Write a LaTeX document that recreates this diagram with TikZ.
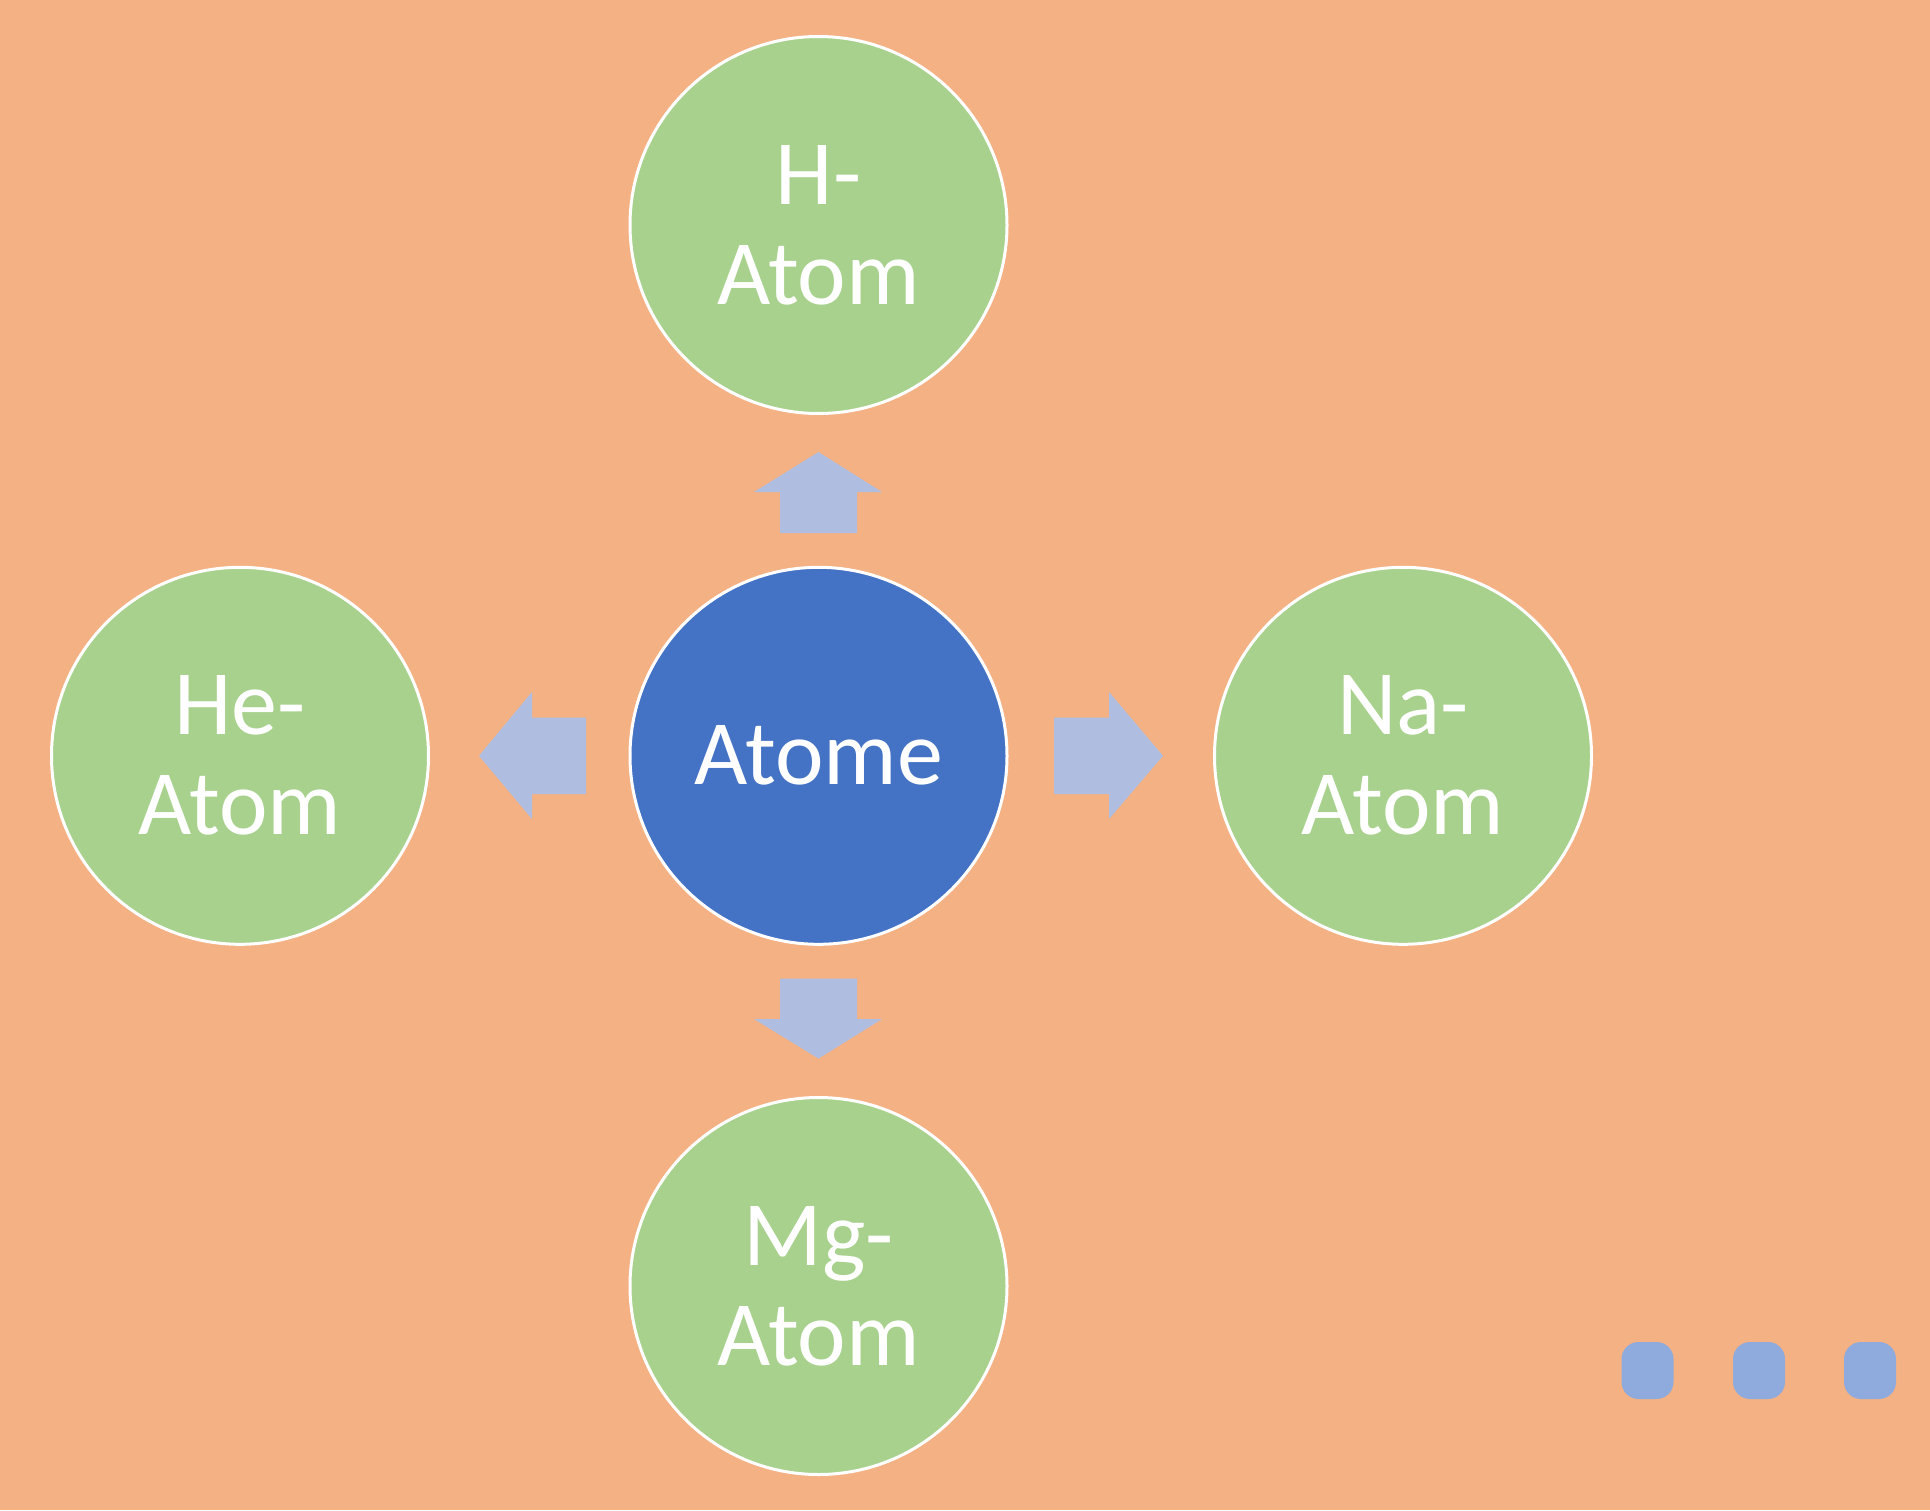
\documentclass[tikz,border=0pt]{standalone}
\usepackage{fontspec}
\setmainfont{Carlito}
\definecolor{bgc}{HTML}{F4B183}
\definecolor{greenc}{HTML}{A9D18E}
\definecolor{bluec}{HTML}{4472C4}
\definecolor{arrc}{HTML}{AFBEE0}
\definecolor{dotc}{HTML}{8FAADC}
\begin{document}
\begin{tikzpicture}[x=1pt,y=-1pt,
  atom/.style={circle,draw=white,line width=3pt,minimum size=377pt,inner sep=0pt,
    text=white,align=center,font=\fontsize{92}{100}\selectfont},
  leaf/.style={atom,fill=greenc},
  hub/.style={atom,fill=bluec},
  blockarrow/.style={fill=arrc,draw=none},
  dotbox/.style={fill=dotc,draw=none,rounded corners=17pt,minimum width=52pt,minimum height=57pt,inner sep=0pt}]
\fill[bgc] (0,0) rectangle (1930,1510);
\useasboundingbox (0,0) rectangle (1930,1510);
\node[hub] (c) at (818.5,755.8) {Atome};
\node[leaf] (t) at (818.5,225) {H-\\Atom};
\node[leaf] (l) at (240,755.8) {He-\\Atom};
\node[leaf] (r) at (1403,755.8) {Na-\\Atom};
\node[leaf] (b) at (818.5,1286) {Mg-\\Atom};
% up arrow
\fill[blockarrow] (780,533) -- (780,492) -- (754,492) -- (818.5,452) -- (882,492) -- (857,492) -- (857,533) -- cycle;
% down arrow
\fill[blockarrow] (780,978.6) -- (780,1019) -- (754,1019) -- (818.5,1058.6) -- (882,1019) -- (857,1019) -- (857,978.6) -- cycle;
% left arrow
\fill[blockarrow] (586,717.6) -- (532,717.6) -- (532,692) -- (479,755.8) -- (532,819) -- (532,794) -- (586,794) -- cycle;
% right arrow
\fill[blockarrow] (1054,717.6) -- (1109,717.6) -- (1109,692) -- (1163,755.8) -- (1109,819) -- (1109,794) -- (1054,794) -- cycle;
\node[dotbox] (d1) at (1647.5,1370.5) {};
\node[dotbox] (d2) at (1759,1370.5) {};
\node[dotbox] (d3) at (1870,1370.5) {};
\end{tikzpicture}
\end{document}
